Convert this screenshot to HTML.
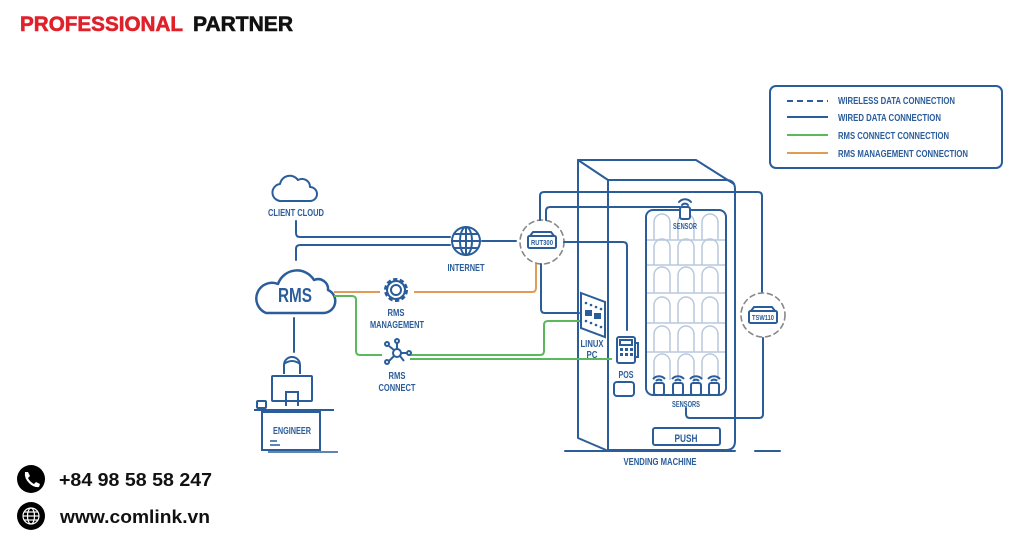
<!DOCTYPE html>
<html><head><meta charset="utf-8"><style>
html,body{margin:0;padding:0;background:#fff;width:1024px;height:538px;overflow:hidden}
svg{display:block}
.l{font-family:"Liberation Sans",sans-serif;font-weight:bold;fill:#2b5d9b;text-anchor:middle}
</style></head><body>
<svg width="1024" height="538" viewBox="0 0 1024 538" xmlns="http://www.w3.org/2000/svg">
<text x="20" y="31" font-family="Liberation Sans,sans-serif" font-weight="bold" font-size="21" fill="#e0202a" textLength="163" lengthAdjust="spacingAndGlyphs" stroke="#e0202a" stroke-width="0.6">PROFESSIONAL</text>
<text x="193" y="31" font-family="Liberation Sans,sans-serif" font-weight="bold" font-size="21" fill="#111" textLength="100" lengthAdjust="spacingAndGlyphs" stroke="#111" stroke-width="0.6">PARTNER</text>

<!-- legend -->
<rect x="770" y="86" width="232" height="82" rx="6" fill="none" stroke="#2b5d9b" stroke-width="2"/>
<g stroke-width="2">
<line x1="787" y1="101" x2="828" y2="101" stroke="#2b5d9b" stroke-dasharray="6,4"/>
<line x1="787" y1="117" x2="828" y2="117" stroke="#2b5d9b"/>
<line x1="787" y1="135" x2="828" y2="135" stroke="#5cb85c"/>
<line x1="787" y1="153" x2="828" y2="153" stroke="#e39a55"/>
</g>
<g class="l" style="text-anchor:start" font-size="10" lengthAdjust="spacingAndGlyphs">
<text x="838" y="104" textLength="117" lengthAdjust="spacingAndGlyphs">WIRELESS DATA CONNECTION</text>
<text x="838" y="121" textLength="103" lengthAdjust="spacingAndGlyphs">WIRED DATA CONNECTION</text>
<text x="838" y="139" textLength="111" lengthAdjust="spacingAndGlyphs">RMS CONNECT CONNECTION</text>
<text x="838" y="157" textLength="130" lengthAdjust="spacingAndGlyphs">RMS MANAGEMENT CONNECTION</text>
</g>

<g fill="none" stroke="#2b5d9b" stroke-width="2" stroke-linejoin="round" stroke-linecap="round">
<!-- client cloud -->
<path d="M282 201 h28 a7 7 0 0 0 0-14 a8 8 0 0 0-12-7 a10 10 0 0 0-18 4 a6 6 0 0 0 2 17z"/>
<path d="M296 221 v12 q0 4 4 4 h150"/>
<path d="M296 260 v-11 q0 -4 4 -4 h150"/>
<!-- globe -->
<circle cx="466" cy="241" r="14"/>
<ellipse cx="466" cy="241" rx="6" ry="14"/>
<line x1="452" y1="241" x2="480" y2="241"/><line x1="466" y1="227" x2="466" y2="255"/>
<line x1="454" y1="234" x2="478" y2="234"/><line x1="454" y1="248" x2="478" y2="248"/>
<line x1="482" y1="241" x2="516" y2="241"/>
<!-- RMS cloud -->
<path d="M266 313 h58 a12 12 0 0 0 4-23 a10 10 0 0 0-14-10 a20 20 0 0 0-36 4 a14 14 0 0 0-12 29z" stroke-width="2.5"/>
<line x1="294" y1="318" x2="294" y2="352"/>
<!-- RUT300 -->
<circle cx="542" cy="242" r="22" stroke="#888" stroke-width="1.6" stroke-dasharray="5,4"/>
<rect x="528" y="236" width="28" height="12" rx="1.5"/>
<path d="M530 236 l3-4 h18 l3 4"/>
<!-- wired lines to machine -->
<path d="M540 220 v-24 q0-4 4-4 h214 q4 0 4 4 v96"/>
<path d="M546 220 v-9 q0-4 4-4 h130"/>
<path d="M564 242 h59 q4 0 4 4 v84"/>
<path d="M541 264 v45 q0 4 4 4 h34"/>
<!-- TSW110 -->
<circle cx="763" cy="315" r="22" stroke="#888" stroke-width="1.6" stroke-dasharray="5,4"/>
<rect x="749" y="311" width="28" height="12" rx="1.5"/>
<path d="M751 311 l3-4 h18 l3 4"/>
<path d="M763 338 v76 q0 4-4 4 h-69 q-4 0-4-4 v-6"/>
<!-- vending machine -->
<path d="M578 160 h118 l38 24"/>
<path d="M578 160 l30 20"/>
<path d="M578 160 v278 l28 12"/>
<path d="M608 180 h118 q9 0 9 9 v252 q0 9-9 9 h-118 z"/>
<line x1="565" y1="451" x2="735" y2="451"/>
<line x1="755" y1="451" x2="780" y2="451"/>
<rect x="646" y="210" width="80" height="185" rx="7"/>
<rect x="653" y="428" width="67" height="17" rx="2"/>
<rect x="614" y="382" width="20" height="14" rx="3"/>
</g>
<!-- shelves & arches -->
<g fill="none" stroke="#b8c9dd" stroke-width="1.5">
<line x1="647" y1="240" x2="725" y2="240"/><line x1="647" y1="265" x2="725" y2="265"/>
<line x1="647" y1="293" x2="725" y2="293"/><line x1="647" y1="323" x2="725" y2="323"/>
<line x1="647" y1="352" x2="725" y2="352"/>
<path id="a" d="M654 240 v-18 a8 8 0 0 1 16 0 v18 M678 240 v-18 a8 8 0 0 1 16 0 v18 M702 240 v-18 a8 8 0 0 1 16 0 v18"/>
<use href="#a" y="25"/><use href="#a" y="53"/><use href="#a" y="83"/><use href="#a" y="112"/><use href="#a" y="140"/>
</g>
<g fill="none" stroke="#2b5d9b" stroke-width="2" stroke-linecap="round">
<!-- linux pc -->
<path d="M581 293 l24 9 v35 l-24-9z" fill="#fff"/>
<!-- POS -->
<rect x="617" y="337" width="18" height="26" rx="2" fill="#fff"/>
<rect x="620" y="340" width="12" height="5"/>
<path d="M635 343 h3 v14 h-3"/>
<!-- sensor top -->
<rect x="680" y="207" width="10" height="12" rx="2" fill="#fff"/>
<path d="M679 202 a8 8 0 0 1 12 0 M682 205 a4 4 0 0 1 6 0"/>
</g>
<g fill="#2b5d9b">
<circle cx="586" cy="303" r="1.3"/><circle cx="591" cy="305" r="1.3"/><circle cx="596" cy="307" r="1.3"/><circle cx="601" cy="309" r="1.3"/>
<rect x="585" y="310" width="7" height="6"/><rect x="594" y="313" width="7" height="6"/>
<circle cx="586" cy="321" r="1.3"/><circle cx="591" cy="323" r="1.3"/><circle cx="596" cy="325" r="1.3"/><circle cx="601" cy="327" r="1.3"/>
<rect x="620" y="348" width="3" height="3"/><rect x="625" y="348" width="3" height="3"/><rect x="630" y="348" width="3" height="3"/>
<rect x="620" y="353" width="3" height="3"/><rect x="625" y="353" width="3" height="3"/><rect x="630" y="353" width="3" height="3"/>
</g>
<!-- bottom sensors -->
<g fill="#fff" stroke="#2b5d9b" stroke-width="2">
<g id="s"><rect x="654" y="383" width="10" height="12" rx="2"/><path d="M653 379 a8 8 0 0 1 12 0 M656 381 a4 4 0 0 1 6 0" fill="none"/></g>
<use href="#s" x="19"/><use href="#s" x="37"/><use href="#s" x="55"/>
</g>
<!-- orange & green -->
<g fill="none" stroke-width="2" stroke-linejoin="round">
<path d="M334 292 h46 M414 292 h118 q4 0 4-4 v-24" stroke="#e39a55"/>
<path d="M334 296 h18 q4 0 4 4 v51 q0 4 4 4 h22" stroke="#5cb85c"/>
<path d="M410 355 h130 q4 0 4-4 v-26 q0-4 4-4 h32" stroke="#5cb85c"/>
<path d="M410 359 h202" stroke="#5cb85c"/>
</g>
<!-- gear -->
<g fill="none" stroke="#2b5d9b" stroke-width="2">
<circle cx="396" cy="290" r="5"/>
<circle cx="396" cy="290" r="10" stroke-dasharray="4,2.3" stroke-width="4"/>
<circle cx="396" cy="290" r="9"/>
<!-- RMS connect -->
<circle cx="397" cy="353" r="4"/>
<path d="M397 349 v-6 M401 353 h6 M394 356 l-5 5 M394 350 l-5-4 M400 356 l4 5"/>
<circle cx="397" cy="341" r="2"/><circle cx="409" cy="353" r="2"/><circle cx="387" cy="362" r="2"/><circle cx="387" cy="344" r="2"/>
<!-- engineer -->
<path d="M284 374 v-9 a8 8 0 0 1 16 0 v9"/>
<path d="M284 364 q8 -6 16 0"/>
<rect x="272" y="376" width="40" height="25" rx="1" fill="#fff"/>
<path d="M286 406 v-14 h12 v14"/>
<path d="M254 410 h80"/>
<rect x="262" y="412" width="58" height="38"/>
<rect x="257" y="401" width="9" height="7" rx="1"/>
<path d="M268 452 h70 M270 441 h7 M270 445 h10" stroke-width="1.5"/>
</g>
<g class="l" font-size="10">
<text x="296" y="216" textLength="56" lengthAdjust="spacingAndGlyphs">CLIENT CLOUD</text>
<text x="466" y="271" textLength="37" lengthAdjust="spacingAndGlyphs">INTERNET</text>
<text x="295" y="302" font-size="20" textLength="34" lengthAdjust="spacingAndGlyphs">RMS</text>
<text x="396" y="316" textLength="17" lengthAdjust="spacingAndGlyphs">RMS</text>
<text x="397" y="328" textLength="54" lengthAdjust="spacingAndGlyphs">MANAGEMENT</text>
<text x="397" y="379" textLength="17" lengthAdjust="spacingAndGlyphs">RMS</text>
<text x="397" y="391" textLength="37" lengthAdjust="spacingAndGlyphs">CONNECT</text>
<text x="292" y="434" textLength="38" lengthAdjust="spacingAndGlyphs">ENGINEER</text>
<text x="542" y="245" font-size="7" textLength="22" lengthAdjust="spacingAndGlyphs">RUT300</text>
<text x="763" y="320" font-size="7" textLength="22" lengthAdjust="spacingAndGlyphs">TSW110</text>
<text x="685" y="229" font-size="8" textLength="24" lengthAdjust="spacingAndGlyphs">SENSOR</text>
<text x="592" y="347" textLength="23" lengthAdjust="spacingAndGlyphs">LINUX</text>
<text x="592" y="358" textLength="11" lengthAdjust="spacingAndGlyphs">PC</text>
<text x="626" y="378" textLength="15" lengthAdjust="spacingAndGlyphs">POS</text>
<text x="686" y="407" font-size="8" textLength="28" lengthAdjust="spacingAndGlyphs">SENSORS</text>
<text x="686" y="442" font-size="11" textLength="23" lengthAdjust="spacingAndGlyphs">PUSH</text>
<text x="660" y="465" textLength="73" lengthAdjust="spacingAndGlyphs">VENDING MACHINE</text>
</g>

<!-- footer -->
<circle cx="31" cy="479" r="14" fill="#000"/>
<path d="M25 472 q-1 6 4 11 q5 5 10 4 l1-3 -4-2 -2 2 q-4-2-6-6 l2-2 -2-4z" fill="#fff"/>
<text x="59" y="486" font-family="Liberation Sans,sans-serif" font-weight="bold" font-size="18" fill="#111" textLength="153" lengthAdjust="spacingAndGlyphs">+84 98 58 58 247</text>
<circle cx="31" cy="516" r="14" fill="#000"/>
<g fill="none" stroke="#fff" stroke-width="1.2"><circle cx="31" cy="516" r="8"/><ellipse cx="31" cy="516" rx="3.5" ry="8"/><line x1="23" y1="516" x2="39" y2="516"/><line x1="24" y1="512" x2="38" y2="512"/><line x1="24" y1="520" x2="38" y2="520"/></g>
<text x="60" y="523" font-family="Liberation Sans,sans-serif" font-weight="bold" font-size="18" fill="#111" textLength="150" lengthAdjust="spacingAndGlyphs">www.comlink.vn</text>
</svg>
</body></html>
